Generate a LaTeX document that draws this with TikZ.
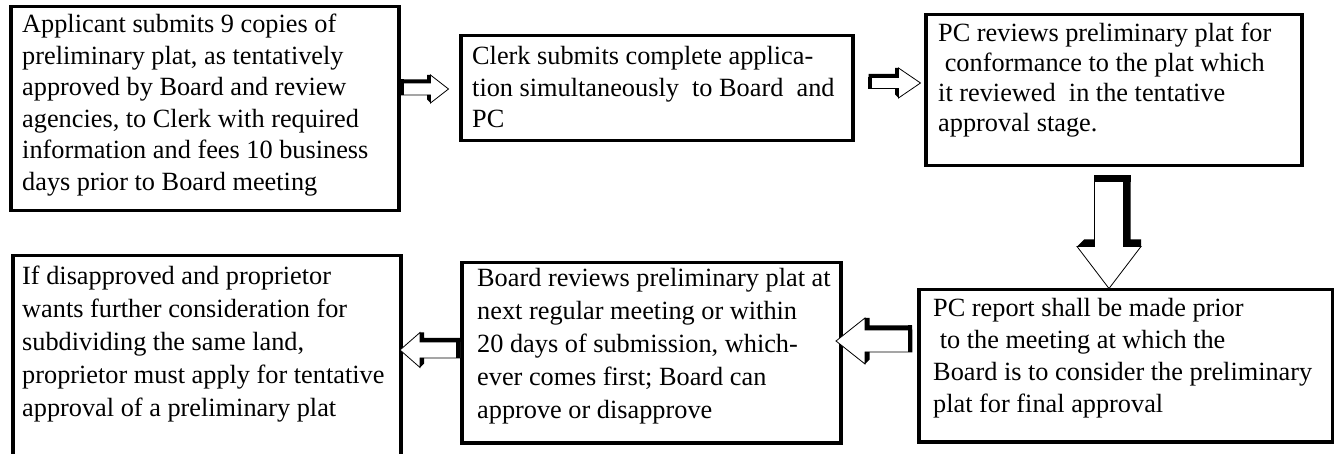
\documentclass[tikz,border=0pt]{standalone}
\usepackage{fontspec}
\setmainfont{Liberation Serif}
\usetikzlibrary{calc}

% Block arrow with a dark extrusion: tail at the origin, pointing along +x.
% #1 shaft length, #2 head length, #3 shaft half-width, #4 head half-width, #5 depth
\newcommand\drawblockarrow[5]{%
  \filldraw[fill=white, draw=black, line width=0.8pt]
    (0,-#3) -- (#1,-#3) -- (#1,-#4) -- (#1+#2,0) -- (#1,#4) -- (#1,#3) -- (0,#3) -- cycle;
  \fill[black] (0,-#3-#5) -- (#1-#5,-#3-#5) -- (#1-#5,-#4) -- (#1,-#4) -- (#1,-#3) -- (0,-#3) -- cycle;
  \fill[black] (#1-#5,#3) -- (#1,#3) -- (#1,#4) -- (#1-#5,#4-#5) -- cycle;
  \fill[black] (0,-#3-#5) rectangle (#5,#3);
}

\tikzset{
  stepframe/.style={draw=black, line width=3.5pt, inner sep=0pt, anchor=north west},
  steptext/.style={inner sep=0pt, anchor=base west},
  blockarrow/.pic={\drawblockarrow#1},
}

\newcommand\steplines[2]{\parbox[t]{430pt}{\fontsize{26.3pt}{#1pt}\selectfont #2}}

\begin{document}
\begin{tikzpicture}[x=1pt, y=-1pt]
  \useasboundingbox (0,0) rectangle (1334,454);

  % frames of the six steps
  \node[stepframe, minimum width=388pt, minimum height=204pt] (b1) at (9,5) {};
  \node[stepframe, minimum width=392pt, minimum height=105pt] (b2) at (459,34) {};
  \node[stepframe, minimum width=376pt, minimum height=151pt] (b3) at (924,13) {};
  \node[stepframe, minimum width=414pt, minimum height=152pt] (b4) at (917,288) {};
  \node[stepframe, minimum width=379pt, minimum height=180pt] (b5) at (460,261) {};
  \node[stepframe, minimum width=388pt, minimum height=203pt] (b6) at (11,254) {};

  % texts of the steps
  \node[steptext] (t1) at ($(b1.north west)+(13,28)$) {\steplines{31.5}{%
    Applicant submits 9 copies of\\
    preliminary plat, as tentatively\\
    approved by Board and review\\
    agencies, to Clerk with required\\
    information and fees 10 business\\
    days prior to Board meeting}};
  \node[steptext] (t2) at ($(b2.north west)+(13,31)$) {\steplines{31.5}{%
    Clerk submits complete applica-\\
    tion simultaneously\ \ to Board\ \ and\\
    PC}};
  \node[steptext] (t3) at ($(b3.north west)+(14,29)$) {\steplines{30}{%
    PC reviews preliminary plat for\\
    \hspace*{0.25em}conformance to the plat which\\
    it reviewed\ \ in the tentative\\
    approval\ stage.}};
  \node[steptext] (t4) at ($(b4.north west)+(16,29)$) {\steplines{32}{%
    PC report shall be made prior\\
    \hspace*{0.25em}to the meeting at which the\\
    Board is to consider the preliminary\\
    plat for final approval}};
  \node[steptext] (t5) at ($(b5.north west)+(17,26)$) {\steplines{33}{%
    Board reviews preliminary plat at\\
    next regular meeting or within\\
    20 days of submission, which-\\
    ever comes first; Board can\\
    approve or disapprove}};
  \node[steptext] (t6) at ($(b6.north west)+(11,31)$) {\steplines{33}{%
    If disapproved and proprietor\\
    wants further consideration for\\
    subdividing the same land,\\
    proprietor must apply for tentative\\
    approval of a preliminary plat}};

  % block arrows between the steps
  \pic (a1) at ($(b1.north east)+(0,84)$) {blockarrow={30}{18}{6}{14}{3.5}};
  \pic (a2) at ($(b2.north east)+(14,49)$) {blockarrow={30}{22}{5.5}{15}{3.5}};
  \pic[rotate=-90] (a3) at ($(b3.south west)+(185,8)$) {blockarrow={71}{42}{14.5}{32}{7}};
  \pic[xscale=-1] (a4) at ($(b4.north west)+(-5,53)$) {blockarrow={47}{29}{11}{23}{4.5}};
  \pic[xscale=-1] (a5) at ($(b5.north west)+(0,89)$) {blockarrow={40}{20}{8}{17.5}{4}};
\end{tikzpicture}
\end{document}
